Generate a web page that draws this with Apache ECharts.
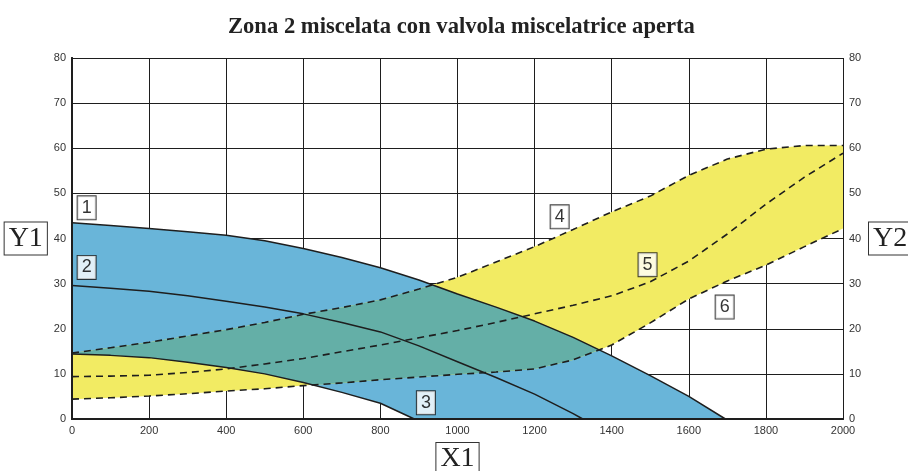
<!DOCTYPE html>
<html>
<head>
<meta charset="utf-8">
<script src="https://cdn.jsdelivr.net/npm/echarts@6/dist/echarts.min.js"></script>
<style>
html,body{margin:0;padding:0;background:#ffffff;}
#c{width:908px;height:471px;}
</style>
</head>
<body>
<div id="c"></div>
<script>
// ---- data ----
const title = 'Zona 2 miscelata con valvola miscelatrice aperta';
const xTicks = [0, 200, 400, 600, 800, 1000, 1200, 1400, 1600, 1800, 2000];
const yTicks = [0, 10, 20, 30, 40, 50, 60, 70, 80];

// curve 1 (upper edge of blue band)
const c1X = [0, 100, 200, 300, 400, 500, 600, 700, 800, 900, 1000, 1100, 1200, 1300, 1400, 1500, 1600, 1695];
const c1Y = [43.5, 42.9, 42.2, 41.5, 40.7, 39.5, 37.8, 35.8, 33.5, 30.8, 27.7, 24.8, 21.7, 18.1, 14.0, 9.6, 5.0, 0];
// curve 2 (middle solid line)
const c2X = [0, 100, 200, 300, 400, 500, 600, 700, 800, 900, 1000, 1100, 1200, 1300, 1325];
const c2Y = [29.6, 29.0, 28.3, 27.3, 26.1, 24.8, 23.3, 21.4, 19.3, 16.2, 12.7, 9.2, 5.5, 1.2, 0];
// curve 3 (lower edge of blue band)
const c3X = [0, 100, 200, 300, 400, 500, 600, 700, 800, 888];
const c3Y = [14.4, 14.1, 13.6, 12.6, 11.4, 10.0, 8.1, 5.9, 3.5, 0];
// curves 4, 5, 6 (dashed)
const dX = [0, 100, 200, 300, 400, 500, 600, 700, 800, 900, 1000, 1100, 1200, 1300, 1400, 1500, 1600, 1700, 1800, 1900, 2000];
const c4Y = [14.6, 15.8, 17.0, 18.4, 19.8, 21.4, 23.2, 24.7, 26.4, 28.8, 31.4, 34.8, 38.2, 42.0, 45.9, 49.4, 54.0, 57.6, 59.8, 60.6, 60.6];
const c5Y = [9.4, 9.5, 9.7, 10.3, 11.1, 12.2, 13.4, 14.9, 16.4, 18.0, 19.6, 21.4, 23.3, 25.2, 27.3, 30.4, 35.0, 41.0, 47.6, 53.6, 58.9];
const c6Y = [4.4, 4.7, 5.1, 5.6, 6.2, 6.7, 7.4, 8.0, 8.7, 9.3, 9.9, 10.4, 11.1, 13.1, 16.4, 21.3, 26.6, 30.6, 34.1, 38.2, 42.2];

// curve number tags (data coordinates)
const tagText = ['1', '2', '3', '4', '5', '6'];
const tagX = [38, 38, 918, 1265, 1493, 1693];
const tagY = [46.8, 33.6, 3.6, 44.8, 34.2, 24.8];

// ---- styles ----
const BLUE = '#69b5d9';
const YELLOW = '#f2eb63';
const TEAL = '#64afa7';
const INK = '#1e1e1e';

function pairs(xs, ys) { return xs.map((x, i) => [x, ys[i]]); }
const s1 = pairs(c1X, c1Y), s2 = pairs(c2X, c2Y), s3 = pairs(c3X, c3Y);
const s4 = pairs(dX, c4Y), s5 = pairs(dX, c5Y), s6 = pairs(dX, c6Y);

// ---- geometry of the overlap of the two bands (blue band ∩ yellow band) ----
function edgeAt(pts, x) {
  if (x <= pts[0][0]) return pts[0][1];
  const n = pts.length;
  if (x >= pts[n - 1][0]) return pts[n - 1][1];
  for (let i = 1; i < n; i++) {
    if (x <= pts[i][0]) {
      const a = pts[i - 1], b = pts[i];
      return a[1] + (b[1] - a[1]) * (x - a[0]) / (b[0] - a[0]);
    }
  }
}
const blueEnd = c1X[c1X.length - 1];
const blueLo = x => (x <= c3X[c3X.length - 1] ? edgeAt(s3, x) : 0);
const blueHi = x => edgeAt(s1, x);
const yelLo = x => edgeAt(s6, x);
const yelHi = x => edgeAt(s4, x);
const topF = x => Math.min(blueHi(x), yelHi(x));
const botF = x => Math.max(blueLo(x), yelLo(x));

function refine(xs, f) {
  const out = [xs[0]];
  for (let i = 1; i < xs.length; i++) {
    const a = xs[i - 1], b = xs[i], fa = f(a), fb = f(b);
    if (fa * fb < 0) out.push(a + (b - a) * fa / (fa - fb));
    out.push(b);
  }
  return out;
}
function overlapPolygon() {
  let xs = Array.from(new Set([].concat(c1X, c3X, dX).filter(x => x <= blueEnd))).sort((a, b) => a - b);
  xs = refine(xs, x => blueHi(x) - yelHi(x));
  xs = refine(xs, x => blueLo(x) - yelLo(x));
  xs = refine(xs, x => topF(x) - botF(x));
  const upper = xs.map(x => [x, Math.max(topF(x), botF(x))]);
  const lower = xs.map(x => [x, botF(x)]).reverse();
  return upper.concat(lower);
}
const overlap = overlapPolygon();

const chart = echarts.init(document.getElementById('c'), null, {renderer: 'canvas'});

function lineSeries(data, dashed) {
  return {
    type: 'line', data: data, symbol: 'none', smooth: false, silent: true, z: 5,
    lineStyle: {color: INK, width: dashed ? 1.6 : 1.5, type: dashed ? [7, 5] : 'solid'},
    emphasis: {disabled: true}
  };
}

const nameBox = {
  fontFamily: 'Liberation Serif', fontSize: 28, color: '#222', lineHeight: 28,
  borderColor: '#333', borderWidth: 1, backgroundColor: '#fff', padding: [2, 4, 2, 4]
};
const tickLabel = {color: '#333', fontSize: 11, fontFamily: 'Liberation Sans', formatter: v => String(v)};

chart.setOption({
  backgroundColor: '#ffffff',
  animation: false,
  title: {
    text: title, left: 223, top: 11,
    textStyle: {fontFamily: 'Liberation Serif', fontWeight: 'bold', fontSize: 22.6, color: '#222'}
  },
  grid: {left: 72, right: 65, top: 58, bottom: 52, outerBoundsMode: 'none', containLabel: false},
  xAxis: [{
    type: 'value', min: 0, max: 2000, interval: 200, position: 'bottom',
    axisLine: {lineStyle: {color: INK, width: 2}}, axisTick: {show: false},
    axisLabel: Object.assign({margin: 6}, tickLabel),
    splitLine: {show: true, lineStyle: {color: INK, width: 1}},
    name: 'X1', nameLocation: 'middle', nameGap: 24, nameTextStyle: nameBox
  }, {
    type: 'value', min: 0, max: 2000, interval: 200, position: 'top',
    axisLine: {show: true, lineStyle: {color: INK, width: 2}}, axisTick: {show: false},
    axisLabel: {show: false}, splitLine: {show: false}
  }],
  yAxis: [{
    type: 'value', min: 0, max: 80, interval: 10, position: 'left',
    axisLine: {show: true, lineStyle: {color: INK, width: 2}}, axisTick: {show: false},
    axisLabel: Object.assign({margin: 6}, tickLabel),
    splitLine: {show: true, lineStyle: {color: INK, width: 1}},
    name: 'Y1', nameLocation: 'middle', nameRotate: 0, nameGap: 24, nameTextStyle: nameBox
  }, {
    type: 'value', min: 0, max: 80, interval: 10, position: 'right',
    axisLine: {show: true, lineStyle: {color: INK, width: 2}}, axisTick: {show: false},
    axisLabel: Object.assign({margin: 6}, tickLabel),
    splitLine: {show: false},
    name: 'Y2', nameLocation: 'middle', nameRotate: 0, nameGap: 26, nameTextStyle: nameBox
  }],
  series: [{
    type: 'custom', coordinateSystem: 'cartesian2d', silent: true, clip: false, z: 0,
    data: [[0, 0]],
    renderItem: function (params, api) {
      const c = p => api.coord(p);
      const blueP = s1.map(c).concat(s3.slice().reverse().map(c));
      const yellowP = s4.map(c).concat(s6.slice().reverse().map(c));
      const tealP = overlap.map(c);
      return {
        type: 'group',
        children: [
          {type: 'polygon', shape: {points: blueP}, style: {fill: BLUE}},
          {type: 'polygon', shape: {points: yellowP}, style: {fill: YELLOW}},
          {type: 'polygon', shape: {points: tealP}, style: {fill: TEAL}}
        ]
      };
    }
  },
    lineSeries(s1, false), lineSeries(s2, false), lineSeries(s3, false),
    lineSeries(s4, true), lineSeries(s5, true), lineSeries(s6, true),
  {
    type: 'scatter', z: 10, silent: true, symbolSize: 1,
    itemStyle: {color: 'rgba(0,0,0,0)'},
    data: tagText.map((t, i) => [tagX[i], tagY[i], t]),
    label: {
      show: true, position: 'inside', formatter: p => p.value[2],
      fontFamily: 'Liberation Sans', fontSize: 18, color: '#000', lineHeight: 20,
      backgroundColor: '#fff', borderColor: '#111', borderWidth: 1, padding: [2, 4, 1, 4]
    }
  }]
});
</script>
</body>
</html>
